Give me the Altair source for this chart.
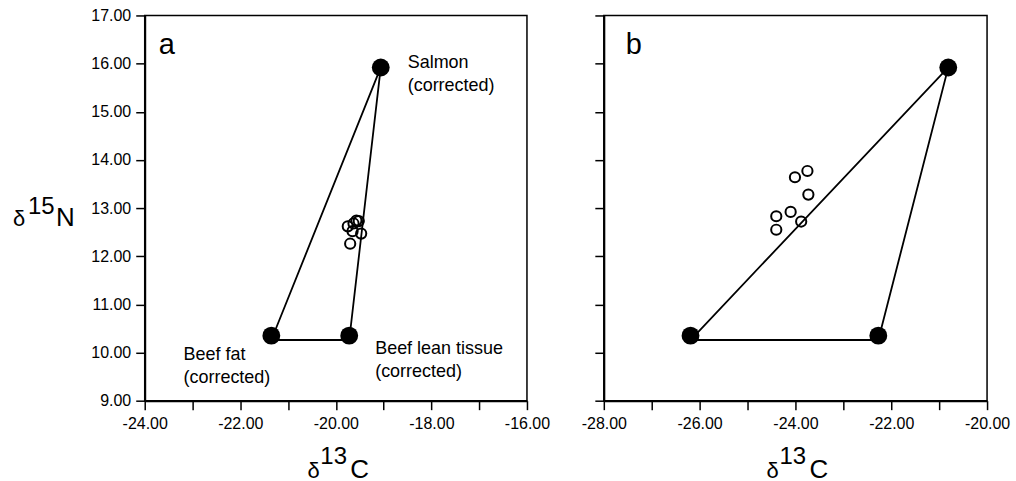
import altair as alt
import pandas as pd

FONT = "Liberation Sans"

# ---------------- data ----------------
# Panel a
a_src_name = ["Salmon", "Beef fat", "Beef lean tissue"]
a_src_x = [-19.06, -21.35, -19.72]
a_src_y = [15.92, 10.35, 10.35]
a_tri_x = [-21.35, -19.06, -19.72, -21.35]
a_tri_y = [10.26, 15.92, 10.26, 10.26]
a_mix_x = [-19.75, -19.63, -19.52, -19.57, -19.65, -19.47, -19.70]
a_mix_y = [12.62, 12.68, 12.73, 12.74, 12.52, 12.47, 12.26]

# Panel b
b_src_x = [-20.81, -26.19, -22.27]
b_src_y = [15.92, 10.35, 10.35]
b_tri_x = [-26.19, -20.81, -22.27, -26.19]
b_tri_y = [10.26, 15.92, 10.26, 10.26]
b_mix_x = [-23.75, -24.01, -23.73, -24.10, -24.40, -23.88, -24.40]
b_mix_y = [13.77, 13.64, 13.28, 12.92, 12.83, 12.72, 12.55]

x_ticks_a = list(range(-24, -15))
x_ticks_b = list(range(-28, -19))
y_ticks = list(range(9, 18))

MINUS_FIX = "replace(format(datum.value, '.2f'), '\u2212', '-')"


def x_axis(vals):
    return alt.Axis(values=vals, title=None, grid=False, tickSize=9, labelPadding=6,
                    labelExpr=f"datum.value % 2 == 0 ? {MINUS_FIX} : ''",
                    labelFont=FONT, labelFontSize=16, labelColor="black",
                    tickColor="black", tickWidth=1.5, domainColor="black", domainWidth=2,
                    labelFlush=False, labelOverlap=False)


def y_axis(show_labels):
    kw = dict(values=y_ticks, title=None, grid=False, tickSize=9, labelPadding=5,
              tickColor="black", tickWidth=1.5, domainColor="black", domainWidth=2)
    if show_labels:
        kw.update(labelExpr=MINUS_FIX, labelFont=FONT, labelFontSize=16, labelColor="black",
                  labelOverlap=False, labelFlush=False)
    else:
        kw.update(labels=False)
    return alt.Axis(**kw)


def txt(s, x, y, size):
    return alt.Chart(pd.DataFrame({"t": [s]})).mark_text(
        align="left", baseline="alphabetic", font=FONT, fontSize=size, color="black"
    ).encode(text="t:N", x=alt.value(x), y=alt.value(y))


def panel(letter, src_x, src_y, tri_x, tri_y, mix_x, mix_y, xdom, xticks, show_y, width):
    xs = alt.Scale(domain=xdom, nice=False, zero=False)
    ys = alt.Scale(domain=[9, 17], nice=False, zero=False)
    X = lambda: alt.X("x:Q", scale=xs, axis=x_axis(xticks))
    Y = lambda: alt.Y("y:Q", scale=ys, axis=y_axis(show_y))

    tri = pd.DataFrame({"x": tri_x, "y": tri_y, "o": list(range(len(tri_x)))})
    src = pd.DataFrame({"x": src_x, "y": src_y})
    mix = pd.DataFrame({"x": mix_x, "y": mix_y})

    lines = alt.Chart(tri).mark_line(color="black", strokeWidth=1.8).encode(
        x=X(), y=Y(), order="o:Q")
    big = alt.Chart(src).mark_point(filled=True, shape="circle", size=320, color="black",
                                    opacity=1).encode(x=X(), y=Y())
    small = alt.Chart(mix).mark_point(filled=False, shape="circle", size=105, color="black",
                                      strokeWidth=2, opacity=1).encode(x=X(), y=Y())
    layers = [lines, small, big]
    layers.append(txt(letter, 14 if letter == "a" else 22, 39, 29))
    # x-axis title  δ13C
    layers += [txt("\u03b4", 163, 463, 22), txt("13", 176, 449, 24), txt("C", 206, 463, 26)]
    return alt.layer(*layers).properties(width=width, height=386)


left = panel("a", a_src_x, a_src_y, a_tri_x, a_tri_y, a_mix_x, a_mix_y,
             [-24, -16], x_ticks_a, True, 383)

# source labels for panel a
xs_a = alt.Scale(domain=[-24, -16], nice=False, zero=False)
ys_a = alt.Scale(domain=[9, 17], nice=False, zero=False)
label_style = dict(align="left", baseline="alphabetic", font=FONT, fontSize=18,
                   color="black", lineBreak="\n", lineHeight=23)
lab_layers = []
for i, (dx, dy) in enumerate([(27, 1), (-88, 24), (26, 18)]):
    d = pd.DataFrame({"x": [a_src_x[i]], "y": [a_src_y[i]],
                      "t": [a_src_name[i] + "\n(corrected)"]})
    lab_layers.append(alt.Chart(d).mark_text(dx=dx, dy=dy, **label_style).encode(
        x=alt.X("x:Q", scale=xs_a), y=alt.Y("y:Q", scale=ys_a), text="t:N"))

# y-axis title  δ15N
ytitle = [txt("\u03b4", -132, 211, 22), txt("15", -117, 199, 24), txt("N", -89, 211, 26)]

left = alt.layer(left, *lab_layers, *ytitle)

right = panel("b", b_src_x, b_src_y, b_tri_x, b_tri_y, b_mix_x, b_mix_y,
              [-28, -20], x_ticks_b, False, 384)

chart = alt.hconcat(left, right, spacing=29).properties(
    padding={"left": 12, "top": 6, "right": 5, "bottom": 2},
    background="white",
).configure_view(stroke="black", strokeWidth=1.5)

chart.save("out.html", embed_options={"renderer": "svg", "actions": False})
